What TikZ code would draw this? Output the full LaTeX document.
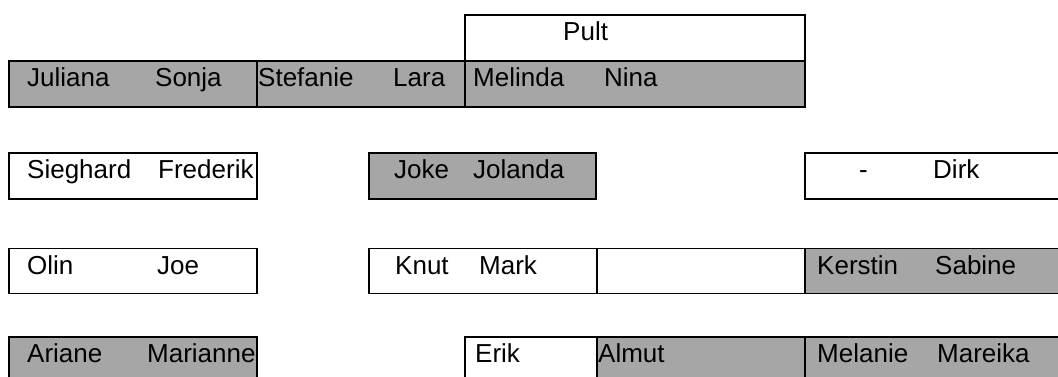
\documentclass[tikz,border=0pt]{standalone}
\usepackage{fontspec}
\setmainfont{Liberation Sans}
\definecolor{seatgray}{RGB}{166,166,166}
\tikzset{
  seat/.style={draw=black, line width=1.5pt, fill=white, rectangle, inner sep=0pt,
    anchor=north west, minimum height=46pt},
  taken/.style={seat, fill=seatgray},
  pupil/.style={anchor=base west, inner sep=0pt, font=\fontsize{26}{28}\selectfont, text=black}
}
\begin{document}
\begin{tikzpicture}[x=1pt,y=-1pt]
\useasboundingbox (0,0) rectangle (1058,376);

% desk and first row
\node[seat,  minimum width=340pt] (pult) at (464,14) {};
\node[taken, minimum width=248pt] (r1a) at (8,60) {};
\node[taken, minimum width=208pt] (r1b) at (256,60) {};
\node[taken, minimum width=340pt] (r1c) at (464,60) {};

% second row
\node[seat,  minimum width=248pt] (r2a) at (8,152) {};
\node[taken, minimum width=227pt] (r2b) at (368,152) {};
\node[seat,  minimum width=270pt] (r2c) at (804,152) {};

% third row
\node[seat,  minimum width=248pt, minimum height=45pt] (r3a) at (8,247.5) {};
\node[seat,  minimum width=228pt, minimum height=45pt] (r3b) at (368,247.5) {};
\node[seat,  minimum width=208pt, minimum height=45pt] (r3c) at (596,247.5) {};
\node[taken, minimum width=270pt, minimum height=45pt] (r3d) at (804,247.5) {};

% fourth row
\node[taken, minimum width=248pt] (r4a) at (8,336) {};
\node[seat,  minimum width=132pt] (r4b) at (464,336) {};
\node[taken, minimum width=208pt] (r4c) at (596,336) {};
\node[taken, minimum width=270pt] (r4d) at (804,336) {};

% names
\node[pupil] (tPult) at (563,40) {Pult};
\node[pupil] (tJuliana) at (27,86) {Juliana};
\node[pupil] (tSonja) at (155,86) {Sonja};
\node[pupil] (tStefanie) at (258,86) {Stefanie};
\node[pupil] (tLara) at (393,86) {Lara};
\node[pupil] (tMelinda) at (473,86) {Melinda};
\node[pupil] (tNina) at (604,86) {Nina};

\node[pupil] (tSieghard) at (27,178) {Sieghard};
\node[pupil] (tFrederik) at (158,178) {Frederik};
\node[pupil] (tJoke) at (394,178) {Joke};
\node[pupil] (tJolanda) at (473,178) {Jolanda};
\node[pupil] (tDash) at (859,178) {-};
\node[pupil] (tDirk) at (933,178) {Dirk};

\node[pupil] (tOlin) at (27,274) {Olin};
\node[pupil] (tJoe) at (157,274) {Joe};
\node[pupil] (tKnut) at (395,274) {Knut};
\node[pupil] (tMark) at (479,274) {Mark};
\node[pupil] (tKerstin) at (817,274) {Kerstin};
\node[pupil] (tSabine) at (935,274) {Sabine};

\node[pupil] (tAriane) at (27,362) {Ariane};
\node[pupil] (tMarianne) at (147,362) {Marianne};
\node[pupil] (tErik) at (475,362) {Erik};
\node[pupil] (tAlmut) at (598,362) {Almut};
\node[pupil] (tMelanie) at (817,362) {Melanie};
\node[pupil] (tMareika) at (937,362) {Mareika};
\end{tikzpicture}
\end{document}
